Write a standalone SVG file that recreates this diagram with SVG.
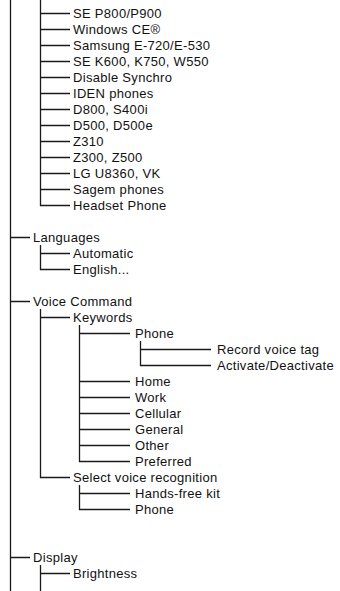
<svg xmlns="http://www.w3.org/2000/svg" width="340" height="591" viewBox="0 0 340 591">
<style>
text{font-family:"Liberation Sans",Arial,sans-serif;font-size:13px;letter-spacing:0.3px;fill:#111111}
#connectors path{fill:none;stroke:#1a1a1a;stroke-width:1.3}
</style>
<rect width="340" height="591" fill="#ffffff"/>
<g id="connectors">
<path d="M10.5 0V591"/>
<path d="M40.5 0V205.5H70M40.5 13.5H70M40.5 29.5H70M40.5 45.5H70M40.5 61.5H70M40.5 77.5H70M40.5 93.5H70M40.5 109.5H70M40.5 125.5H70M40.5 141.5H70M40.5 157.5H70M40.5 173.5H70M40.5 189.5H70"/>
<path d="M10.5 237.5H30M40.5 245V269.5H70M40.5 253.5H70"/>
<path d="M10.5 301.5H30M40.5 309V477.5H70M40.5 317.5H70"/>
<path d="M79.5 325V461.5H130M79.5 333.5H130M79.5 381.5H130M79.5 397.5H130M79.5 413.5H130M79.5 429.5H130M79.5 445.5H130"/>
<path d="M140.5 341V365.5H211M140.5 349.5H211"/>
<path d="M79.5 485V509.5H130M79.5 493.5H130"/>
<path d="M10.5 557.5H30M40.5 565V591M40.5 573.5H70"/>
</g>
<g id="n-se-p800"><text x="73" y="18">SE P800/P900</text></g>
<g id="n-windows-ce"><text x="73" y="34">Windows CE®</text></g>
<g id="n-samsung"><text x="73" y="50">Samsung E-720/E-530</text></g>
<g id="n-se-k600"><text x="73" y="66">SE K600, K750, W550</text></g>
<g id="n-disable-synchro"><text x="73" y="82">Disable Synchro</text></g>
<g id="n-iden"><text x="73" y="98">IDEN phones</text></g>
<g id="n-d800"><text x="73" y="114">D800, S400i</text></g>
<g id="n-d500"><text x="73" y="130">D500, D500e</text></g>
<g id="n-z310"><text x="73" y="146">Z310</text></g>
<g id="n-z300"><text x="73" y="162">Z300, Z500</text></g>
<g id="n-lg"><text x="73" y="178">LG U8360, VK</text></g>
<g id="n-sagem"><text x="73" y="194">Sagem phones</text></g>
<g id="n-headset"><text x="73" y="210">Headset Phone</text></g>
<g id="n-languages"><text x="33" y="242">Languages</text></g>
<g id="n-automatic"><text x="73" y="258">Automatic</text></g>
<g id="n-english"><text x="73" y="274">English...</text></g>
<g id="n-voice-command"><text x="33" y="306">Voice Command</text></g>
<g id="n-keywords"><text x="73" y="322">Keywords</text></g>
<g id="n-kw-phone"><text x="135" y="338">Phone</text></g>
<g id="n-record"><text x="217" y="354">Record voice tag</text></g>
<g id="n-activate"><text x="217" y="370">Activate/Deactivate</text></g>
<g id="n-home"><text x="135" y="386">Home</text></g>
<g id="n-work"><text x="135" y="402">Work</text></g>
<g id="n-cellular"><text x="135" y="418">Cellular</text></g>
<g id="n-general"><text x="135" y="434">General</text></g>
<g id="n-other"><text x="135" y="450">Other</text></g>
<g id="n-preferred"><text x="135" y="466">Preferred</text></g>
<g id="n-select"><text x="73" y="482">Select voice recognition</text></g>
<g id="n-handsfree"><text x="135" y="498">Hands-free kit</text></g>
<g id="n-svr-phone"><text x="135" y="514">Phone</text></g>
<g id="n-display"><text x="33" y="562">Display</text></g>
<g id="n-brightness"><text x="73" y="578">Brightness</text></g>
</svg>
